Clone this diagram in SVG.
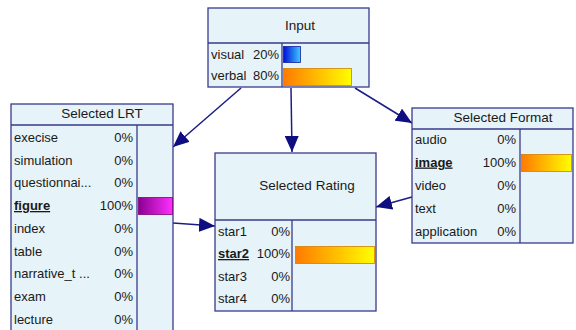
<svg xmlns="http://www.w3.org/2000/svg" width="576" height="330" viewBox="0 0 576 330">
<defs>
<style>
.box{fill:#e6f3f8;stroke:#3a3a8c;stroke-width:1.3}
.ln{stroke:#3a3a8c;stroke-width:1.3;fill:none}
.t{font-family:"Liberation Sans",Arial,sans-serif;font-size:13px;fill:#1a1a1a}
.h{font-family:"Liberation Sans",Arial,sans-serif;font-size:13.5px;fill:#1a1a1a;text-anchor:middle}
.r{text-anchor:end}
.b{font-weight:bold;text-decoration:underline}
.e{stroke:#1c1c86;stroke-width:1.5;fill:none;marker-end:url(#ah)}
</style>
<marker id="ah" markerUnits="userSpaceOnUse" markerWidth="18" markerHeight="14" refX="16" refY="7" orient="auto">
<path d="M0,0 L16,7 L0,14 Z" fill="#0e0e80"/>
</marker>
<linearGradient id="gBlue" x1="0" y1="0" x2="1" y2="0"><stop offset="0" stop-color="#0010d8"/><stop offset="1" stop-color="#40c8ff"/></linearGradient>
<linearGradient id="gOr" x1="0" y1="0" x2="1" y2="0"><stop offset="0" stop-color="#ff7a00"/><stop offset="1" stop-color="#ffff00"/></linearGradient>
<linearGradient id="gMag" x1="0" y1="0" x2="1" y2="0"><stop offset="0" stop-color="#8a0090"/><stop offset="1" stop-color="#ff30ff"/></linearGradient>
</defs>
<g id="connectors">
<line class="e" x1="241" y1="88" x2="173" y2="147"/>
<line class="e" x1="291" y1="88" x2="292" y2="152"/>
<line class="e" x1="355" y1="88" x2="412" y2="123"/>
<line class="e" x1="412" y1="197" x2="376" y2="207"/>
<line class="e" x1="173" y1="223" x2="215" y2="226"/>
</g>
<g id="input">
<rect class="box" x="208" y="8" width="161" height="79"/>
<line class="ln" x1="208" y1="43" x2="369" y2="43"/>
<line class="ln" x1="282" y1="43" x2="282" y2="87"/>
<text class="h" x="300" y="30">Input</text>
<text class="t" x="211" y="59">visual</text><text class="t r" x="279" y="59">20%</text>
<text class="t" x="211" y="80">verbal</text><text class="t r" x="279" y="80">80%</text>
<rect x="283.5" y="46.5" width="17" height="16" fill="url(#gBlue)" stroke="#1020a0" stroke-width="0.8"/>
<rect x="283.5" y="68.5" width="68" height="17" fill="url(#gOr)" stroke="#d08000" stroke-width="0.8"/>
</g>
<g id="lrt">
<rect class="box" x="11" y="104" width="162" height="240"/>
<line class="ln" x1="11" y1="125" x2="173" y2="125"/>
<line class="ln" x1="137" y1="125" x2="137" y2="344"/>
<text class="h" x="102" y="118">Selected LRT</text>
<text class="t" x="14" y="141.5">execise</text><text class="t r" x="133" y="141.5">0%</text>
<text class="t" x="14" y="164.5">simulation</text><text class="t r" x="133" y="164.5">0%</text>
<text class="t" x="14" y="187">questionnai...</text><text class="t r" x="133" y="187">0%</text>
<text class="t b" x="14" y="210">figure</text><text class="t r" x="133" y="210">100%</text>
<text class="t" x="14" y="232.5">index</text><text class="t r" x="133" y="232.5">0%</text>
<text class="t" x="14" y="255.5">table</text><text class="t r" x="133" y="255.5">0%</text>
<text class="t" x="14" y="277.5">narrative_t ...</text><text class="t r" x="133" y="277.5">0%</text>
<text class="t" x="14" y="300.5">exam</text><text class="t r" x="133" y="300.5">0%</text>
<text class="t" x="14" y="323.5">lecture</text><text class="t r" x="133" y="323.5">0%</text>
<rect x="138.5" y="197.5" width="34" height="17" fill="url(#gMag)" stroke="#800080" stroke-width="0.8"/>
</g>
<g id="rating">
<rect class="box" x="215" y="153" width="161" height="158"/>
<line class="ln" x1="215" y1="220" x2="376" y2="220"/>
<line class="ln" x1="292" y1="220" x2="292" y2="311"/>
<text class="h" x="307" y="190">Selected Rating</text>
<text class="t" x="218" y="236">star1</text><text class="t r" x="290" y="236">0%</text>
<text class="t b" x="218" y="258">star2</text><text class="t r" x="290" y="258">100%</text>
<text class="t" x="218" y="281">star3</text><text class="t r" x="290" y="281">0%</text>
<text class="t" x="218" y="303">star4</text><text class="t r" x="290" y="303">0%</text>
<rect x="295.5" y="246.5" width="79" height="17" fill="url(#gOr)" stroke="#d08000" stroke-width="0.8"/>
</g>
<g id="format">
<rect class="box" x="412" y="108" width="161" height="135"/>
<line class="ln" x1="412" y1="129" x2="573" y2="129"/>
<line class="ln" x1="520" y1="129" x2="520" y2="243"/>
<text class="h" x="503" y="122">Selected Format</text>
<text class="t" x="415" y="143.5">audio</text><text class="t r" x="516" y="143.5">0%</text>
<text class="t b" x="415" y="166.5">image</text><text class="t r" x="516" y="166.5">100%</text>
<text class="t" x="415" y="189.5">video</text><text class="t r" x="516" y="189.5">0%</text>
<text class="t" x="415" y="212.5">text</text><text class="t r" x="516" y="212.5">0%</text>
<text class="t" x="415" y="235.5">application</text><text class="t r" x="516" y="235.5">0%</text>
<rect x="521.5" y="154.5" width="50" height="17" fill="url(#gOr)" stroke="#d08000" stroke-width="0.8"/>
</g>
</svg>
